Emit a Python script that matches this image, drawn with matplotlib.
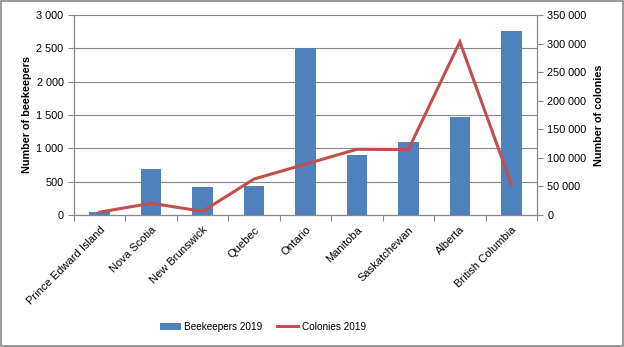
import matplotlib.pyplot as plt
import numpy as np
from matplotlib.ticker import FuncFormatter, MultipleLocator
from matplotlib.patches import Rectangle

plt.rcParams['font.family'] = ['Liberation Sans', 'DejaVu Sans']

provinces = ["Prince Edward Island", "Nova Scotia", "New Brunswick", "Quebec",
             "Ontario", "Manitoba", "Saskatchewan", "Alberta", "British Columbia"]
beekeepers_2019 = [50, 690, 420, 440, 2500, 900, 1095, 1470, 2760]
colonies_2019 = [5000, 20500, 6500, 63000, 89000, 115000, 114500, 303000, 54000]

bar_color = "#4F81BD"
line_color = "#C0504D"
axis_gray = "#888888"

fig = plt.figure(figsize=(6.24, 3.47), dpi=100)
ax = fig.add_axes([0.1186, 0.3804, 0.742, 0.5764])
ax2 = ax.twinx()

x = np.arange(len(provinces))
bars = ax.bar(x, beekeepers_2019, width=0.4, color=bar_color, zorder=3)
line, = ax2.plot(x, colonies_2019, color=line_color, lw=2.2, zorder=4,
                 solid_joinstyle='miter')

ax.set_zorder(ax2.get_zorder() - 1)
ax2.patch.set_visible(False)

def space_thousands(v, pos):
    return f"{int(v):,}".replace(",", " ")

ax.set_xlim(-0.5, len(provinces) - 0.5)
ax.set_ylim(0, 3000)
ax2.set_ylim(0, 350000)
ax.yaxis.set_major_locator(MultipleLocator(500))
ax2.yaxis.set_major_locator(MultipleLocator(50000))
ax.yaxis.set_major_formatter(FuncFormatter(space_thousands))
ax2.yaxis.set_major_formatter(FuncFormatter(space_thousands))

ax.grid(axis='y', color=axis_gray, lw=0.8, zorder=0)
ax.set_axisbelow(True)

# tick marks sit on category boundaries, labels on category centres
ax.set_xticks(np.arange(-0.5, len(provinces)), minor=False)
ax.set_xticklabels([])
ax.set_xticks(x, minor=True)
ax.set_xticklabels(provinces, minor=True, rotation=45, ha='right',
                   rotation_mode='anchor', fontsize=8)
ax.tick_params(axis='x', which='minor', length=0, pad=7)
ax.tick_params(axis='x', which='major', length=4, color=axis_gray)

for a in (ax, ax2):
    a.spines['top'].set_visible(False)
    a.tick_params(axis='y', labelsize=7.8, length=4, color=axis_gray)
    for s in ('left', 'bottom', 'right'):
        a.spines[s].set_color(axis_gray)

ax.set_ylabel("Number of beekeepers", fontsize=7.8, fontweight='bold', labelpad=3)
ax2.set_ylabel("Number of colonies", fontsize=7.8, fontweight='bold', labelpad=5)

fig.legend([bars, line], ["Beekeepers 2019", "Colonies 2019"],
           loc='center', bbox_to_anchor=(0.421, 0.058), ncol=2, frameon=False,
           fontsize=7.2, handlelength=2.1, handleheight=0.7, columnspacing=1.5,
           handletextpad=0.35)

fig.patches.append(Rectangle((0.0015, 0.003), 0.997, 0.994, transform=fig.transFigure,
                             fill=False, edgecolor=axis_gray, lw=1.2))

fig.savefig("out.png", dpi=100)
